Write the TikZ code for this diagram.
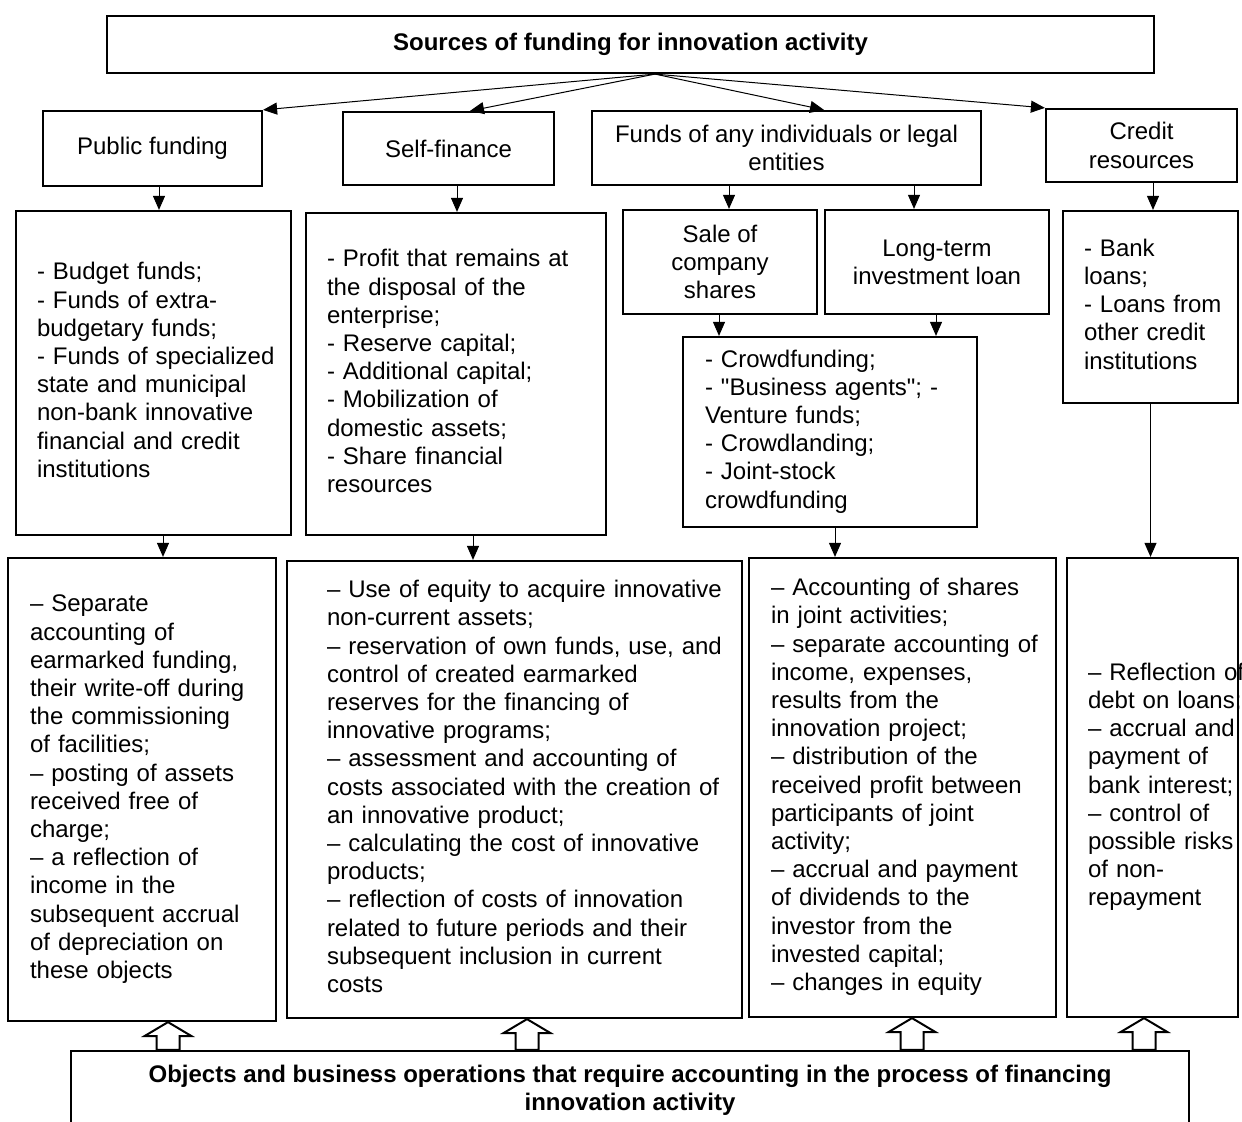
\documentclass[tikz,border=0pt]{standalone}
\usepackage{fontspec}
\setmainfont{Liberation Sans}[Ligatures=TeXOff]
\usetikzlibrary{arrows.meta}

\newcommand{\itemlines}[1]{\begin{tabular}{@{}l@{}}#1\end{tabular}}

\tikzset{
  box/.style={draw, line width=1.1pt, inner ysep=0pt, inner xsep=0pt,
    font=\fontsize{12}{14.1}\selectfont},
  head/.style={box, align=center, font=\bfseries\fontsize{12}{14.1}\selectfont},
  src/.style={box, align=center},
  lst/.style={box, align=left},
  arr/.style={-{Triangle[width=6pt,length=7pt]}, line width=0.5pt},
  hollow/.style={draw, fill=white, line width=1pt, line join=miter}
}

\begin{document}
\begin{tikzpicture}[x=0.5pt,y=-0.5pt]
\useasboundingbox (0,0) rectangle (1242,1122);
\clip (0,0) rectangle (1242,1122);

% sources
\node[head, minimum width=523.5pt, minimum height=28.5pt] (top) at (630.5,44.5)
  {Sources of funding for innovation activity};

\node[src, minimum width=109.5pt, minimum height=37.5pt] (pub) at (152.5,148.5) {Public funding};
\node[src, minimum width=105.5pt, minimum height=36.5pt] (self) at (448.5,148.5) {Self-finance};
\node[src, minimum width=194.5pt, minimum height=37pt] (funds) at (786.5,148)
  {Funds of any individuals or legal\\entities};
\node[src, minimum width=95.5pt, minimum height=36.5pt] (credit) at (1141.5,145.5) {Credit\\resources};

% what each source is made of
\node[lst, minimum height=162pt, text width=116.5pt, inner xsep=10.5pt] (publist) at (153.5,373)
  {\itemlines{- Budget funds;\\- Funds of extra-\\budgetary funds;\\- Funds of specialized\\state and municipal\\non-bank innovative\\financial and credit\\institutions}};
\node[lst, minimum height=161pt, text width=129pt, inner xsep=10.5pt] (selflist) at (456,374)
  {\itemlines{- Profit that remains at\\the disposal of the\\enterprise;\\- Reserve capital;\\- Additional capital;\\- Mobilization of\\domestic assets;\\- Share financial\\resources}};
\node[src, minimum width=97pt, minimum height=52pt] (sale) at (720,262) {Sale of\\company\\shares};
\node[src, minimum width=112pt, minimum height=52pt] (loan) at (937,262) {Long-term\\investment loan};
\node[lst, minimum height=96pt, text width=66.5pt, inner xsep=10.5pt] (creditlist) at (1150.5,307)
  {\itemlines{- Bank\\loans;\\- Loans from\\other credit\\institutions}};
\node[lst, minimum height=95pt, text width=125pt, inner xsep=11pt] (crowd) at (830,432)
  {\itemlines{- Crowdfunding;\\- "Business agents"; -\\Venture funds;\\- Crowdlanding;\\- Joint-stock\\crowdfunding}};

% accounting
\node[lst, minimum height=231.5pt, text width=112pt, inner xsep=11pt] (boxA) at (142,789.5)
  {\itemlines{– Separate\\accounting of\\earmarked funding,\\their write-off during\\the commissioning\\of facilities;\\– posting of assets\\received free of\\charge;\\– a reflection of\\income in the\\subsequent accrual\\of depreciation on\\these objects}};
\node[lst, minimum height=228.5pt, text width=187.5pt, inner xsep=20pt] (boxB) at (514.5,789.5)
  {\itemlines{– Use of equity to acquire innovative\\non-current assets;\\– reservation of own funds, use, and\\control of created earmarked\\reserves for the financing of\\innovative programs;\\– assessment and accounting of\\costs associated with the creation of\\an innovative product;\\– calculating the cost of innovative\\products;\\– reflection of costs of innovation\\related to future periods and their\\subsequent inclusion in current\\costs}};
\node[lst, minimum height=229.5pt, text width=131.5pt, inner xsep=11pt] (boxC) at (902.5,787.5)
  {\itemlines{– Accounting of shares\\in joint activities;\\– separate accounting of\\income, expenses,\\results from the\\innovation project;\\– distribution of the\\received profit between\\participants of joint\\activity;\\– accrual and payment\\of dividends to the\\investor from the\\invested capital;\\– changes in equity}};
\node[lst, minimum height=229.5pt, text width=64.5pt, inner xsep=10.5pt] (boxD) at (1152.5,787.5)
  {\itemlines{– Reflection of\\debt on loans;\\– accrual and\\payment of\\bank interest;\\– control of\\possible risks\\of non-\\repayment}};

\node[head, minimum width=559pt, minimum height=39pt] (obj) at (630,1090)
  {Objects and business operations that require accounting in the process of financing\\innovation activity};

% arrows from the title
\draw[arr] ([xshift=12.25pt]top.south) -- (pub.north east);
\draw[arr] ([xshift=12.25pt]top.south) -- ([xshift=10.75pt]self.north);
\draw[arr] ([xshift=12.25pt]top.south) -- ([xshift=18.75pt]funds.north);
\draw[arr] ([xshift=12.25pt]top.south) -- (credit.north west);

% down arrows
\draw[arr] ([xshift=3.25pt]pub.south) -- ([xshift=3.25pt]pub.south |- publist.north);
\draw[arr] ([xshift=4.25pt]self.south) -- ([xshift=4.25pt]self.south |- selflist.north);
\draw[arr] ([xshift=-28.75pt]funds.south) -- ([xshift=-28.75pt]funds.south |- sale.north);
\draw[arr] ([xshift=63.75pt]funds.south) -- ([xshift=63.75pt]funds.south |- loan.north);
\draw[arr] ([xshift=5.75pt]credit.south) -- ([xshift=5.75pt]credit.south |- creditlist.north);
\draw[arr] ([xshift=-0.5pt]sale.south) -- ([xshift=-0.5pt]sale.south |- crowd.north);
\draw[arr] ([xshift=-0.5pt]loan.south) -- ([xshift=-0.5pt]loan.south |- crowd.north);
\draw[arr] ([xshift=4.75pt]publist.south) -- ([xshift=4.75pt]publist.south |- boxA.north);
\draw[arr] ([xshift=8.5pt]selflist.south) -- ([xshift=8.5pt]selflist.south |- boxB.north);
\draw[arr] ([xshift=2.5pt]crowd.south) -- ([xshift=2.5pt]crowd.south |- boxC.north);
\draw[arr] (creditlist.south) -- (creditlist.south |- boxD.north);

% hollow arrows up from the bottom box
\foreach \b/\dx in {boxA/13pt,boxB/6.25pt,boxC/4.75pt,boxD/-4.25pt}
  \draw[hollow] ([xshift=\dx]\b.south)
    -- ([xshift=\dx+11.75pt,yshift=-7pt]\b.south)
    -- ([xshift=\dx+5.75pt,yshift=-7pt]\b.south)
    -- ([xshift=\dx+5.75pt]\b.south |- obj.north)
    -- ([xshift=\dx-5.75pt]\b.south |- obj.north)
    -- ([xshift=\dx-5.75pt,yshift=-7pt]\b.south)
    -- ([xshift=\dx-11.75pt,yshift=-7pt]\b.south)
    -- cycle;

\end{tikzpicture}
\end{document}
